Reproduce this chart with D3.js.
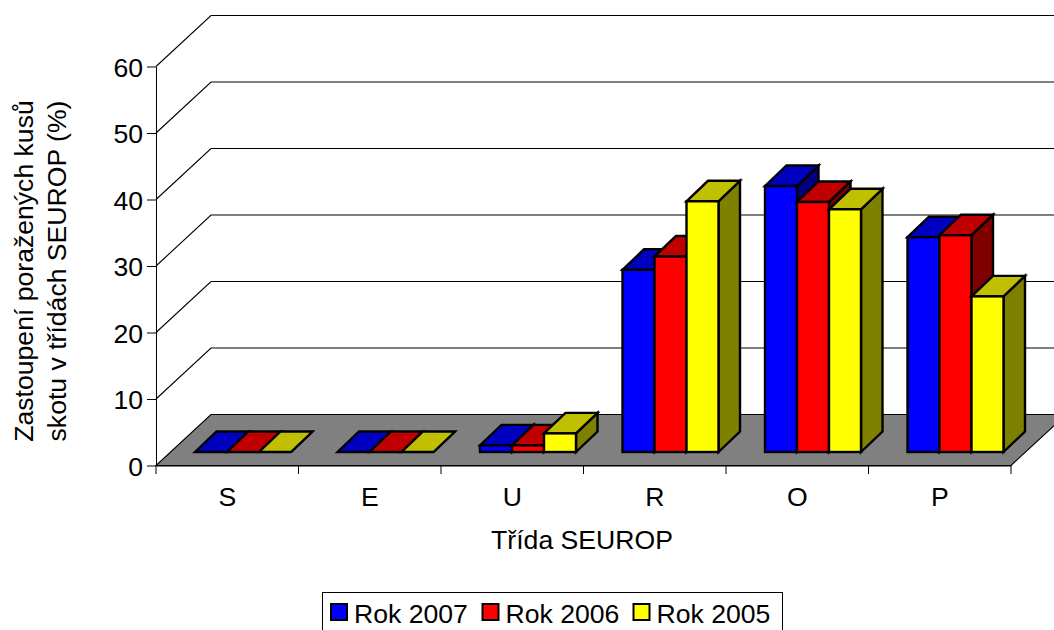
<!DOCTYPE html>
<html><head><meta charset="utf-8">
<script src="https://cdn.jsdelivr.net/npm/d3@7"></script>
<style>html,body{margin:0;padding:0;background:#fff;overflow:hidden}svg{display:block}text{font-family:"Liberation Sans",Arial,sans-serif;fill:#000}</style>
</head><body><svg id="c" width="1054" height="630"></svg>
<script>
const categories = ["S","E","U","R","O","P"];
const seriesNames = ["Rok 2007","Rok 2006","Rok 2005"];
const rok2007 = [0,0,1,27.4,40,32.3];
const rok2006 = [0,0,1,29.4,37.6,32.6];
const rok2005 = [0,0,2.8,37.7,36.5,23.4];
const yTicks = [0,10,20,30,40,50,60];
const frontColors = ["#0000ff","#ff0000","#ffff00"];
const topColors = ["#0000c0","#c00000","#c0c000"];
const sideColors = ["#000080","#800000","#808000"];
const xTitle = "Třída SEUROP";
const yTitle = ["Zastoupení poražených kusů","skotu v třídách SEUROP (%)"];

const svg = d3.select("#c");
const fs = 26.6;
const y = d3.scaleLinear().domain([0,60]).range([465,66]);
const x = d3.scaleBand().domain(categories).range([156,1011]);
const wallDx = 55, wallDy = -51;
const barOffX = 39, barOffY = -13, barW = 32, depthX = 21.5, depthY = -20.5;
const series = [rok2007,rok2006,rok2005];
const pts = a => a.map(p=>p.join(",")).join(" ");

// gridlines on walls
yTicks.slice(1).forEach(t=>{
  svg.append("polyline").attr("fill","none").attr("stroke","#000").attr("stroke-width",1.1)
    .attr("points",pts([[x.range()[0],y(t)+.5],[x.range()[0]+wallDx,y(t)+wallDy+.5],[x.range()[1]+wallDx,y(t)+wallDy+.5]]));
});
// floor
svg.append("polygon").attr("fill","#808080").attr("stroke","#000").attr("stroke-width",1.1)
  .attr("points",pts([[x.range()[0],y(0)+.5],[x.range()[1],y(0)+.5],[x.range()[1]+wallDx,y(0)+wallDy+.5],[x.range()[0]+wallDx,y(0)+wallDy+.5]]));

// axes
const yAxis = svg.append("g").attr("transform",`translate(${x.range()[0]},.5)`)
  .call(d3.axisLeft(y).tickValues(yTicks).tickSize(9).tickPadding(4).tickSizeOuter(0));
yAxis.selectAll("text").attr("font-size",fs).attr("dy","0.36em").style("font-family",'"Liberation Sans"').attr("fill","#000");
yAxis.selectAll("path,line").attr("stroke","#000");
const xAxis = svg.append("g").attr("transform",`translate(0,${y(0)+.5})`)
  .call(d3.axisBottom(x).tickSize(0).tickPadding(40.5));
xAxis.selectAll("text").attr("font-size",fs).attr("dy",0).style("font-family",'"Liberation Sans"').attr("fill","#000");
xAxis.select("path.domain").attr("stroke","#000");
[...categories.map(c=>x(c)),x.range()[1]].forEach(px=>{
  svg.append("line").attr("x1",px).attr("x2",px).attr("y1",y(0)).attr("y2",y(0)+9).attr("stroke","#000");
});

// bars: painter's order left to right
const base = y(0)+barOffY;
categories.forEach((c,ci)=>{
  series.forEach((s,si)=>{
    const x0 = x(c)+barOffX+si*barW, x1 = x0+barW;
    const top = y(s[ci])+barOffY;
    const g = svg.append("g").attr("stroke","#000").attr("stroke-width",2.4).attr("stroke-linejoin","miter");
    g.append("polygon").attr("fill",sideColors[si])
      .attr("points",pts([[x1,base],[x1+depthX,base+depthY],[x1+depthX,top+depthY],[x1,top]]));
    g.append("polygon").attr("fill",topColors[si])
      .attr("points",pts([[x0,top],[x0+depthX,top+depthY],[x1+depthX,top+depthY],[x1,top]]));
    g.append("rect").attr("x",x0).attr("y",top).attr("width",barW).attr("height",base-top).attr("fill",frontColors[si]);
  });
});

// titles
svg.append("text").attr("x",582).attr("y",549).attr("text-anchor","middle").attr("font-size",fs).text(xTitle);
yTitle.forEach((t,i)=>{
  svg.append("text").attr("transform",`translate(${33+i*32.5},271) rotate(-90)`).attr("text-anchor","middle").attr("font-size",fs).text(t);
});

// legend
svg.append("rect").attr("x",322.5).attr("y",592.5).attr("width",460).attr("height",60).attr("fill","#fff").attr("stroke","#000");
const legX = [330,481.5,632.5];
seriesNames.forEach((n,i)=>{
  svg.append("rect").attr("x",legX[i]+1).attr("y",604).attr("width",16).attr("height",16).attr("fill",frontColors[i]).attr("stroke","#000").attr("stroke-width",2);
  svg.append("text").attr("x",legX[i]+24).attr("y",623).attr("font-size",fs).text(n);
});
</script></body></html>
